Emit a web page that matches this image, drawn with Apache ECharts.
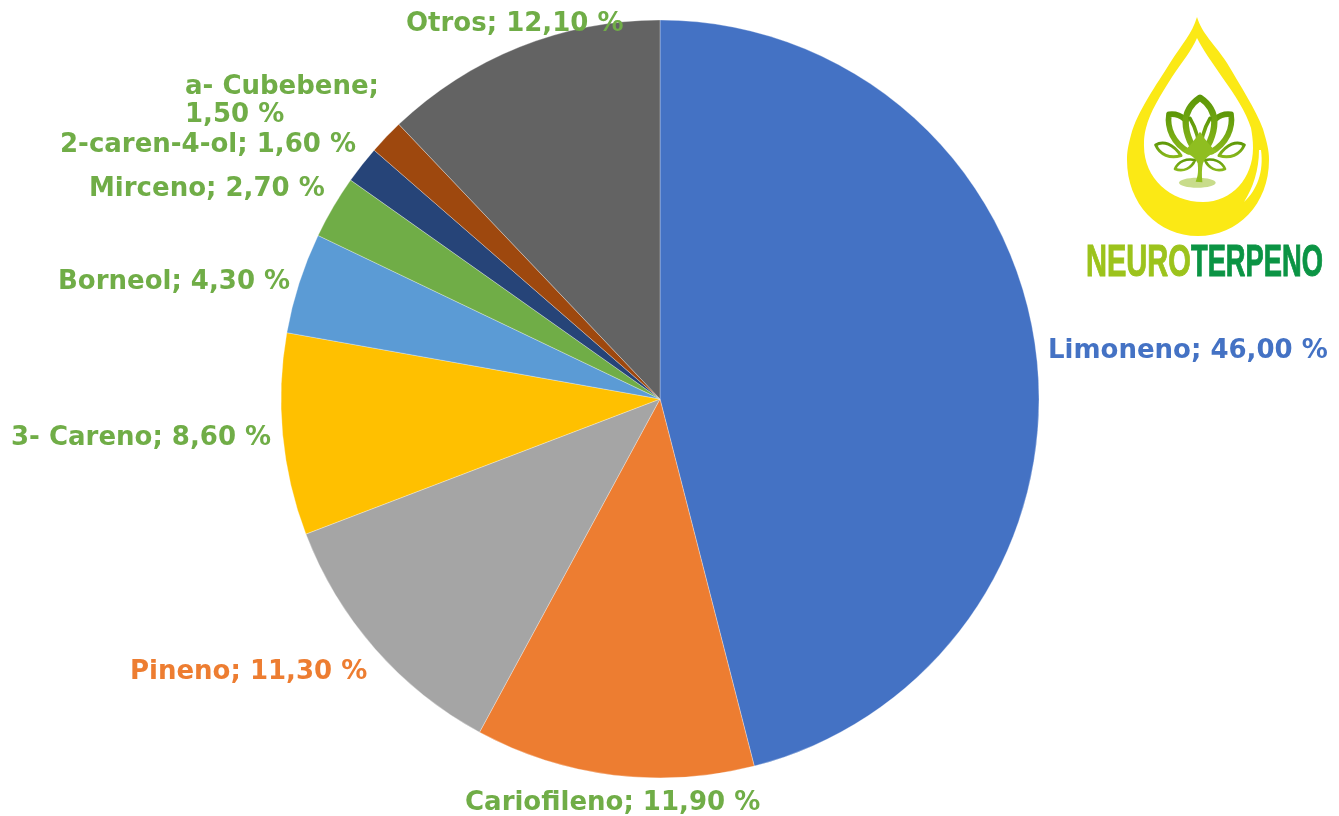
<!DOCTYPE html>
<html>
<head>
<meta charset="utf-8">
<script src="https://cdn.jsdelivr.net/npm/echarts@6/dist/echarts.min.js"></script>
<style>
  html, body { margin: 0; padding: 0; background: #fff; }
  #chart { width: 1339px; height: 816px; }
</style>
</head>
<body>
<div id="chart"></div>
<script>
const categories = ['Limoneno', 'Cariofileno', 'Pineno', '3- Careno', 'Borneol', 'Mirceno', '2-caren-4-ol', 'a- Cubebene', 'Otros'];
const values = [46.0, 11.9, 11.3, 8.6, 4.3, 2.7, 1.6, 1.5, 12.1];
const sliceColors = ['#4472C4', '#ED7D31', '#A5A5A5', '#FFC000', '#5B9BD5', '#70AD47', '#264478', '#9E480E', '#636363'];
const labelColors = ['#4472C4', '#70AD47', '#ED7D31', '#70AD47', '#70AD47', '#70AD47', '#70AD47', '#70AD47', '#70AD47'];

// left edge and vertical middle of each label
const labelSpots = [[1048, 351], [465, 803], [130, 672], [11, 438], [58, 282], [89, 189], [60, 145], [185, 101], [406, 24]];

function labelText(name, value) {
    const text = name + '; ' + value.toFixed(2).replace('.', ',') + ' %';
    // this one wraps in the original
    return name === 'a- Cubebene' ? text.replace('; ', ';\n') : text;
}

// logo outlines; the drop is in page pixels, the lotus in its own 330x330 box
const logoPaths = {
    dropOuter: 'M1197 17 C1192 34 1182 44 1170 63 C1157 84 1137 112 1131 135 C1128 146 1127 152 1127 160 C1127 204 1158 236 1198 236 C1238 236 1269 204 1269 160 C1269 150 1267 143 1263 129 C1256 110 1240 85 1227 63 C1214 43 1202 34 1197 17 Z',
    dropInner: 'M1197 38 C1192 50 1182 62 1172 77 C1160 96 1150 112 1146 128 C1144 136 1144 140 1144 146 C1144 178 1170 202 1203 202 C1232 202 1253 178 1253 148 C1253 140 1252 134 1251 128 C1246 112 1235 95 1222 77 C1212 62 1203 50 1197 38 Z',
    dropShine: 'M1261 150 C1264 172 1257 190 1244 202 C1253 188 1259 170 1259 150 Z',
    lotusBody: 'M112 200 C130 205 150 215 158 235 C160 255 160 272 152 290 L172 292 C170 270 170 250 174 235 C182 215 200 205 218 200 C200 190 185 170 165 140 C145 170 130 190 112 200 Z',
    lotusTop: 'M165 38 C140 55 122 80 122 112 C122 150 142 190 165 215 C188 190 208 150 208 112 C208 80 190 55 165 38 Z',
    lotusVeins: 'M135 100 C150 125 163 160 165 210 M195 100 C180 125 167 160 165 210',
    lotusLeft: 'M72 88 C88 86 105 90 118 102 M72 88 C65 130 85 175 130 200',
    lotusRight: 'M258 88 C242 86 225 90 212 102 M258 88 C265 130 245 175 200 200',
    leafLeft: 'M32 180 C55 165 85 178 108 212 C75 222 45 210 32 180 Z',
    leafRight: 'M298 180 C275 165 245 178 222 212 C255 222 285 210 298 180 Z',
    lowLeft: 'M90 252 C100 228 125 220 150 225 C140 250 115 262 90 252 Z',
    lowRight: 'M240 252 C230 228 205 220 180 225 C190 250 215 262 240 252 Z'
};
Object.keys(logoPaths).forEach(key => {
    echarts.graphic.registerShape(key, echarts.graphic.extendPath(logoPaths[key], {}));
});

const chart = echarts.init(document.getElementById('chart'), null, { renderer: 'canvas' });

const lotusGreen = {
    type: 'linear', x: 0, y: 0, x2: 0, y2: 1,
    colorStops: [{ offset: 0, color: '#5B9607' }, { offset: 1, color: '#8DBB1E' }]
};
const lotusStroke = (type, width) => ({
    type: type,
    z: 13,
    style: { fill: 'none', stroke: lotusGreen, lineWidth: width, lineJoin: 'round', lineCap: 'round' }
});

chart.setOption({
    animation: false,
    backgroundColor: '#fff',
    series: [{
        type: 'pie',
        center: [660, 399],
        radius: 379,
        startAngle: 90,
        clockwise: true,
        silent: true,
        data: categories.map((name, i) => ({
            name: name,
            value: values[i],
            itemStyle: { color: sliceColors[i] },
            label: { color: labelColors[i] }
        })),
        itemStyle: { borderColor: '#fff', borderWidth: 0.3 },
        label: {
            show: true,
            formatter: p => labelText(p.name, p.value),
            fontFamily: 'DejaVu Sans',
            fontWeight: 'bold',
            fontSize: 26,
            lineHeight: 28,
            align: 'left',
            overflow: 'none'
        },
        labelLine: { show: false },
        labelLayout: params => ({
            x: labelSpots[params.dataIndex][0],
            y: labelSpots[params.dataIndex][1],
            align: 'left',
            verticalAlign: 'middle'
        })
    }],
    graphic: [
        { type: 'dropOuter', style: { fill: '#FBE915' }, z: 10 },
        { type: 'dropInner', style: { fill: '#fff' }, z: 11 },
        { type: 'dropShine', style: { fill: '#fff' }, z: 12 },
        {
            type: 'group',
            x: 1145,
            y: 85,
            scaleX: 1 / 3,
            scaleY: 1 / 3,
            children: [
                { type: 'ellipse', z: 13, shape: { cx: 157, cy: 293, rx: 55, ry: 15 }, style: { fill: '#C8DC8B' } },
                lotusStroke('lotusLeft', 17),
                lotusStroke('lotusRight', 17),
                lotusStroke('leafLeft', 9),
                lotusStroke('leafRight', 9),
                lotusStroke('lowLeft', 8),
                lotusStroke('lowRight', 8),
                lotusStroke('lotusTop', 19),
                lotusStroke('lotusVeins', 11),
                { type: 'lotusBody', z: 13, style: { fill: '#8FBE20' } }
            ]
        },
        { type: 'text', x: 1086, y: 264, scaleX: 0.66, style: { text: 'NEURO', font: 'bold 44px "Liberation Sans"', fill: '#9CC31C', stroke: '#9CC31C', lineWidth: 1, verticalAlign: 'middle' }, z: 12 },
        { type: 'text', x: 1191, y: 264, scaleX: 0.62, style: { text: 'TERPENO', font: 'bold 44px "Liberation Sans"', fill: '#0B9444', stroke: '#0B9444', lineWidth: 1, verticalAlign: 'middle' }, z: 12 }
    ]
});
</script>
</body>
</html>
